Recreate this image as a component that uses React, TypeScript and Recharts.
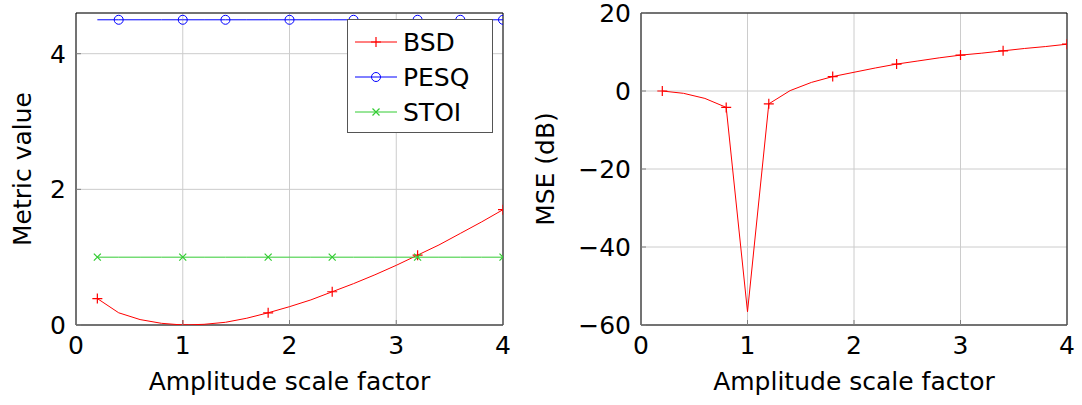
import React from "react";
import {
  CartesianGrid,
  Label,
  Line,
  LineChart,
  ReferenceArea,
  XAxis,
  YAxis
} from "recharts";

// amplitude scale factors used for every sweep
const scaleFactors = [
  0.2, 0.4, 0.6, 0.8, 1.0, 1.2, 1.4, 1.6, 1.8, 2.0,
  2.2, 2.4, 2.6, 2.8, 3.0, 3.2, 3.4, 3.6, 3.8, 4.0
];

const bsdValues = [
  0.39, 0.18, 0.08, 0.025, 0.0, 0.01, 0.04, 0.1, 0.18, 0.27,
  0.37, 0.49, 0.61, 0.74, 0.88, 1.03, 1.18, 1.35, 1.52, 1.7
];
const pesqValues = [
  4.5, 4.5, 4.5, 4.5, 4.5, 4.5, 4.5, 4.5, 4.5, 4.5,
  4.5, 4.5, 4.5, 4.5, 4.5, 4.5, 4.5, 4.5, 4.5, 4.5
];
const stoiValues = [
  1.0, 1.0, 1.0, 1.0, 1.0, 1.0, 1.0, 1.0, 1.0, 1.0,
  1.0, 1.0, 1.0, 1.0, 1.0, 1.0, 1.0, 1.0, 1.0, 1.0
];
const mseDb = [
  0.0, -0.6, -1.9, -4.2, -56.6, -3.3, 0.1, 2.2, 3.7, 4.8,
  5.9, 6.9, 7.7, 8.5, 9.2, 9.7, 10.3, 10.9, 11.4, 12.0
];

// which samples get a marker
const bsdMarks = [0.2, 1.0, 1.8, 2.4, 3.2, 4.0];
const pesqMarks = [0.4, 1.0, 1.4, 2.0, 2.6, 3.2, 3.6, 4.0];
const stoiMarks = [0.2, 1.0, 1.8, 2.4, 3.2, 4.0];
const mseMarks = [0.2, 0.8, 1.2, 1.8, 2.4, 3.0, 3.4, 4.0];

const xTicks = [0, 1, 2, 3, 4];
const metricTicks = [0, 2, 4];
const mseTicks = [-60, -40, -20, 0, 20];

const FONT = "DejaVu Sans";
const FONT_SIZE = 25;
const GRID = "#cccccc";
const TICK_GAP = 10;

const RED = "#ff0000";
const BLUE = "#0000ff";
const GREEN = "#33cc33";

const metricRows = scaleFactors.map((x, i) => ({
  x,
  bsd: bsdValues[i],
  pesq: pesqValues[i],
  stoi: stoiValues[i]
}));
const mseRows = scaleFactors.map((x, i) => ({ x, mse: mseDb[i] }));

const fmt = (v: number) => String(v).replace("-", "\u2212");
const hasMark = (marks: number[], x: number) =>
  marks.some((m) => Math.abs(m - x) < 1e-6);

type Shape = "plus" | "circle" | "cross";

function MarkGlyph({ shape, cx, cy, color }: { shape: Shape; cx: number; cy: number; color: string }) {
  if (shape === "circle") {
    return <circle cx={cx} cy={cy} r={4.5} fill="none" stroke={color} strokeWidth={1} />;
  }
  if (shape === "cross") {
    const s = 3.5;
    return (
      <path
        d={`M${cx - s},${cy - s}L${cx + s},${cy + s}M${cx - s},${cy + s}L${cx + s},${cy - s}`}
        stroke={color}
        strokeWidth={1.2}
        fill="none"
      />
    );
  }
  const s = 5;
  return (
    <path
      d={`M${cx - s},${cy}H${cx + s}M${cx},${cy - s}V${cy + s}`}
      stroke={color}
      strokeWidth={1.2}
      fill="none"
    />
  );
}

const makeDot = (shape: Shape, color: string, marks: number[]) => (props: any) => {
  const { cx, cy, payload, index } = props;
  if (cx == null || cy == null || !hasMark(marks, payload.x)) return <g key={index} />;
  return <MarkGlyph key={index} shape={shape} cx={cx} cy={cy} color={color} />;
};

function XTick(props: any) {
  const { x, y, payload } = props;
  const axisY = y - TICK_GAP;
  return (
    <g>
      <line x1={x} x2={x} y1={axisY} y2={axisY - 5} stroke="#808080" />
      <text x={x} y={y} dy="0.76em" textAnchor="middle" fontSize={FONT_SIZE} style={{ fontFamily: FONT }} fill="#000">
        {fmt(payload.value)}
      </text>
    </g>
  );
}

function YTick(props: any) {
  const { x, y, payload } = props;
  const axisX = x + TICK_GAP;
  return (
    <g>
      <line x1={axisX} x2={axisX + 5} y1={y} y2={y} stroke="#808080" />
      <text x={x} y={y} dy="0.36em" textAnchor="end" fontSize={FONT_SIZE} style={{ fontFamily: FONT }} fill="#000">
        {fmt(payload.value)}
      </text>
    </g>
  );
}

const yTitle = (text: string, shift: number) => (props: any) => {
  const { viewBox } = props;
  const cx = viewBox.x + shift;
  const cy = viewBox.y + viewBox.height / 2;
  return (
    <text
      x={cx}
      y={cy}
      transform={`rotate(-90, ${cx}, ${cy})`}
      textAnchor="middle"
      dy="0.36em"
      fontSize={FONT_SIZE}
      style={{ fontFamily: FONT }}
      fill="#000"
    >
      {text}
    </text>
  );
};

const legendItems: { name: string; color: string; shape: Shape }[] = [
  { name: "BSD", color: RED, shape: "plus" },
  { name: "PESQ", color: BLUE, shape: "circle" },
  { name: "STOI", color: GREEN, shape: "cross" }
];

function MetricLegend() {
  return (
    <div
      style={{
        position: "absolute",
        left: 347,
        top: 19,
        width: 146,
        height: 114,
        boxSizing: "border-box",
        border: "1px solid #555",
        background: "#fff"
      }}
    >
      <svg width={144} height={112} style={{ display: "block" }}>
        {legendItems.map((item, i) => {
          const cy = 22 + i * 35;
          return (
            <g key={item.name}>
              <line x1={7} x2={49} y1={cy} y2={cy} stroke={item.color} strokeWidth={1} />
              <MarkGlyph shape={item.shape} cx={28} cy={cy} color={item.color} />
              <text x={55} y={cy} dy="0.36em" fontSize={FONT_SIZE} style={{ fontFamily: FONT }} fill="#000">
                {item.name}
              </text>
            </g>
          );
        })}
      </svg>
    </div>
  );
}

function MetricChart() {
  return (
    <div style={{ position: "relative", width: 530, height: 405 }}>
      <LineChart width={530} height={405} data={metricRows} margin={{ top: 13, right: 27, left: 0, bottom: 0 }}>
        <CartesianGrid stroke={GRID} />
        <XAxis
          type="number"
          dataKey="x"
          domain={[0, 4]}
          ticks={xTicks}
          allowDataOverflow
          height={80}
          tickSize={0}
          tickMargin={TICK_GAP}
          tick={<XTick />}
          axisLine={false}
        >
          <Label value="Amplitude scale factor" position="insideBottom" offset={15} fontSize={FONT_SIZE} style={{ fontFamily: FONT }} fill="#000" />
        </XAxis>
        <YAxis
          type="number"
          domain={[0, 4.6]}
          ticks={metricTicks}
          allowDataOverflow
          width={76}
          tickSize={0}
          tickMargin={TICK_GAP}
          tick={<YTick />}
          axisLine={false}
        >
          <Label content={yTitle("Metric value", 22)} />
        </YAxis>
        <ReferenceArea x1={0} x2={4} y1={0} y2={4.6} fill="none" fillOpacity={0} stroke="#000" strokeWidth={1} />
        <Line type="linear" dataKey="bsd" stroke={RED} strokeWidth={1} dot={makeDot("plus", RED, bsdMarks)} activeDot={false} isAnimationActive={false} />
        <Line type="linear" dataKey="pesq" stroke={BLUE} strokeWidth={1} dot={makeDot("circle", BLUE, pesqMarks)} activeDot={false} isAnimationActive={false} />
        <Line type="linear" dataKey="stoi" stroke={GREEN} strokeWidth={1} dot={makeDot("cross", GREEN, stoiMarks)} activeDot={false} isAnimationActive={false} />
      </LineChart>
      <MetricLegend />
    </div>
  );
}

function MseChart() {
  return (
    <LineChart width={552} height={405} data={mseRows} margin={{ top: 13, right: 15, left: 0, bottom: 0 }}>
      <CartesianGrid stroke={GRID} />
      <XAxis
        type="number"
        dataKey="x"
        domain={[0, 4]}
        ticks={xTicks}
        allowDataOverflow
        height={80}
        tickSize={0}
        tickMargin={TICK_GAP}
        tick={<XTick />}
        axisLine={false}
      >
        <Label value="Amplitude scale factor" position="insideBottom" offset={15} fontSize={FONT_SIZE} style={{ fontFamily: FONT }} fill="#000" />
      </XAxis>
      <YAxis
        type="number"
        domain={[-60, 20]}
        ticks={mseTicks}
        allowDataOverflow
        width={111}
        tickSize={0}
        tickMargin={TICK_GAP}
        tick={<YTick />}
        axisLine={false}
      >
        <Label content={yTitle("MSE (dB)", 15)} />
      </YAxis>
      <ReferenceArea x1={0} x2={4} y1={-60} y2={20} fill="none" fillOpacity={0} stroke="#000" strokeWidth={1} />
      <Line type="linear" dataKey="mse" stroke={RED} strokeWidth={1} dot={makeDot("plus", RED, mseMarks)} activeDot={false} isAnimationActive={false} />
    </LineChart>
  );
}

export default function App() {
  return (
    <div
      style={{
        position: "absolute",
        left: 0,
        top: 0,
        width: 1082,
        height: 405,
        display: "flex",
        background: "#fff"
      }}
    >
      <MetricChart />
      <MseChart />
    </div>
  );
}
